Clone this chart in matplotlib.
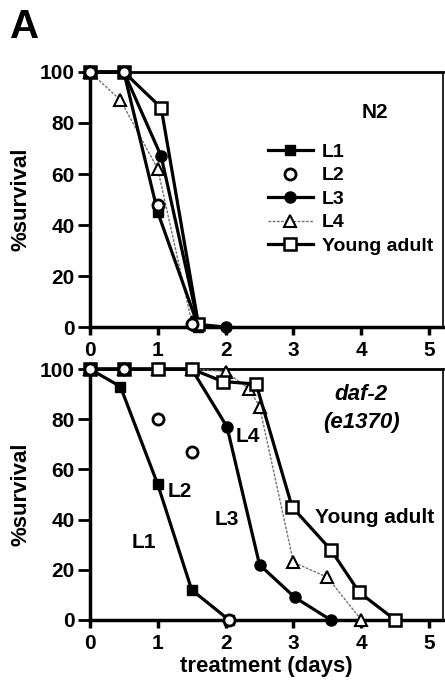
import numpy as np
import matplotlib
matplotlib.use("Agg")
import matplotlib.pyplot as plt
from matplotlib.legend_handler import HandlerLine2D

plt.rcParams['font.family'] = ['Liberation Sans', 'DejaVu Sans']
plt.rcParams['font.weight'] = 'bold'

# N2 (top panel)
n2_l1_x = [0, 0.5, 1.0, 1.6]
n2_l1_y = [100, 100, 45, 0]
n2_l2_x = [0, 0.5, 1.0, 1.5]
n2_l2_y = [100, 100, 48, 1]
n2_l3_x = [0, 0.5, 1.05, 1.6, 2.0]
n2_l3_y = [100, 100, 67, 1, 0]
n2_l4_x = [0, 0.45, 1.0, 1.5]
n2_l4_y = [100, 89, 62, 2]
n2_ya_x = [0, 0.5, 1.05, 1.6]
n2_ya_y = [100, 100, 86, 1]

# daf-2 (e1370) (bottom panel)
d2_l1_x = [0, 0.45, 1.0, 1.5, 2.05]
d2_l1_y = [100, 93, 54, 12, 0]
d2_l2_x = [0, 0.5, 1.0, 1.5, 2.05]
d2_l2_y = [100, 100, 80, 67, 0]
d2_l3_x = [0, 0.5, 1.0, 1.5, 2.02, 2.5, 3.02, 3.55]
d2_l3_y = [100, 100, 100, 100, 77, 22, 9, 0]
d2_l4_x = [0, 0.5, 1.0, 1.5, 2.0, 2.35, 2.5, 3.0, 3.5, 4.0]
d2_l4_y = [100, 100, 100, 100, 99, 92, 85, 23, 17, 0]
d2_ya_x = [0, 0.5, 1.0, 1.5, 1.96, 2.45, 2.98, 3.55, 3.97, 4.5]
d2_ya_y = [100, 100, 100, 100, 95, 94, 45, 28, 11, 0]

series_labels = ['L1', 'L2', 'L3', 'L4', 'Young adult']
x_ticks = [0, 1, 2, 3, 4, 5]
y_ticks = [0, 20, 40, 60, 80, 100]


class LeftMarker(HandlerLine2D):
    def get_xdata(self, legend, xdescent, ydescent, width, height, fontsize):
        xdata = np.array([-xdescent, -xdescent + width])
        return xdata, np.array([-xdescent])


def draw_panel(ax, data):
    (l1x, l1y), (l2x, l2y), (l3x, l3y), (l4x, l4y), (yax, yay) = data
    kw = dict(clip_on=False, zorder=3)
    h4, = ax.plot(l4x, l4y, color='0.45', lw=1.0, ls=(0, (2, 1)), marker='^',
                  ms=8, mfc='white', mec='black', mew=1.5, **kw)
    h1, = ax.plot(l1x, l1y, color='black', lw=2.3, marker='s', ms=7,
                  mfc='black', mec='black', **kw)
    h3, = ax.plot(l3x, l3y, color='black', lw=2.3, marker='o', ms=8,
                  mfc='black', mec='black', **kw)
    h5, = ax.plot(yax, yay, color='black', lw=2.3, marker='s', ms=8,
                  mfc='white', mec='black', mew=1.8, **kw)
    h2, = ax.plot(l2x, l2y, ls='none', marker='o', ms=8, mfc='white',
                  mec='black', mew=2.0, **kw)
    ax.set_xlim(0, 5.2)
    ax.set_ylim(0, 100)
    ax.set_xticks(x_ticks)
    ax.set_yticks(y_ticks)
    ax.tick_params(axis='y', direction='out', length=9, width=2, labelsize=15, pad=2)
    ax.tick_params(axis='x', direction='out', length=6, width=2.5, labelsize=15, pad=4)
    for lab in ax.get_xticklabels() + ax.get_yticklabels():
        lab.set_fontweight('bold')
    ax.spines['left'].set_linewidth(2.5)
    ax.spines['bottom'].set_linewidth(2.5)
    ax.spines['top'].set_linewidth(2.0)
    ax.spines['right'].set_linewidth(1.2)
    ax.set_ylabel('%survival', fontsize=16, fontweight='bold', labelpad=6)
    return [h1, h2, h3, h4, h5]


fig = plt.figure(figsize=(4.45, 6.85), dpi=100)
ax1 = fig.add_axes([0.202, 0.5226, 0.793, 0.3723])
ax2 = fig.add_axes([0.202, 0.0949, 0.793, 0.3664])

handles = draw_panel(ax1, [(n2_l1_x, n2_l1_y), (n2_l2_x, n2_l2_y), (n2_l3_x, n2_l3_y),
                           (n2_l4_x, n2_l4_y), (n2_ya_x, n2_ya_y)])
draw_panel(ax2, [(d2_l1_x, d2_l1_y), (d2_l2_x, d2_l2_y), (d2_l3_x, d2_l3_y),
                 (d2_l4_x, d2_l4_y), (d2_ya_x, d2_ya_y)])

ax1.legend(handles, series_labels, loc='upper left', bbox_to_anchor=(0.505, 0.72),
           frameon=False, fontsize=14, handlelength=2.3, handletextpad=0.45,
           labelspacing=0.3, borderpad=0, borderaxespad=0,
           handler_map={h: LeftMarker() for h in handles},
           prop={'weight': 'bold', 'size': 14})
ax1.text(4.2, 84, 'N2', fontsize=15, fontweight='bold', ha='center', va='center')

ax2.text(4.0, 90, 'daf-2', fontsize=16, fontweight='bold', style='italic',
         ha='center', va='center')
ax2.text(4.0, 78.5, '(e1370)', fontsize=16, fontweight='bold', style='italic',
         ha='center', va='center')
ax2.text(0.8, 31, 'L1', fontsize=15, fontweight='bold', ha='center', va='center')
ax2.text(1.33, 51, 'L2', fontsize=15, fontweight='bold', ha='center', va='center')
ax2.text(2.02, 40, 'L3', fontsize=15, fontweight='bold', ha='center', va='center')
ax2.text(2.32, 73, 'L4', fontsize=15, fontweight='bold', ha='center', va='center')
ax2.text(4.2, 41, 'Young adult', fontsize=15, fontweight='bold', ha='center', va='center')
ax2.set_xlabel('treatment (days)', fontsize=16, fontweight='bold', labelpad=2)

fig.text(0.056, 0.96, 'A', fontsize=29, fontweight='bold', ha='center', va='center')

fig.savefig('out.png', dpi=100)
